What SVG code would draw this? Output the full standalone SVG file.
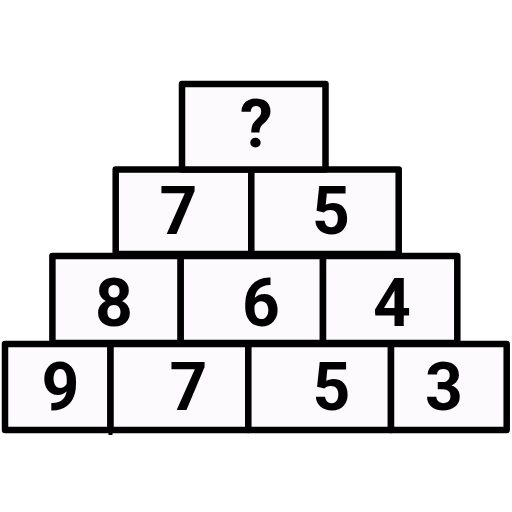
<svg xmlns="http://www.w3.org/2000/svg" width="512" height="512" viewBox="0 0 512 512">
<style>
.box{fill:#fdfafd;stroke:#000;stroke-width:6.5;stroke-linejoin:round}
.num{font-family:Roboto,"Liberation Sans",sans-serif;font-weight:bold;font-size:66px;text-anchor:middle;fill:#000}
</style>
<rect width="512" height="512" fill="#fff"/>
<g id="row4">
<g id="n9"><rect class="box" x="5" y="344" width="105.5" height="86"/><text class="num" x="60.5" y="410">9</text></g>
<g id="n7b"><rect class="box" x="110.5" y="344" width="137.8" height="86"/><text class="num" x="188.5" y="410">7</text></g>
<g id="n5b"><rect class="box" x="248.3" y="344" width="142.7" height="86"/><text class="num" x="331.5" y="410">5</text></g>
<g id="n3"><rect class="box" x="391" y="344" width="115.7" height="86"/><text class="num" x="444" y="410">3</text></g>
</g>
<g id="row3">
<g id="n8"><rect class="box" x="52.4" y="256" width="128.3" height="87"/><text class="num" x="114" y="325.5">8</text></g>
<g id="n6"><rect class="box" x="180.7" y="256" width="142.3" height="87"/><text class="num" x="261" y="325.5">6</text></g>
<g id="n4"><rect class="box" x="323" y="256" width="134.3" height="87"/><text class="num" x="392" y="325.5">4</text></g>
</g>
<g id="row2">
<g id="n7a"><rect class="box" x="115.7" y="169.5" width="135.6" height="84.5"/><text class="num" x="178.5" y="234">7</text></g>
<g id="n5a"><rect class="box" x="251.3" y="169.5" width="147.4" height="84.5"/><text class="num" x="331" y="234">5</text></g>
</g>
<g id="row1">
<g id="nq"><rect class="box" x="182" y="84" width="143.5" height="85.5"/><text class="num" x="256.5" y="147">?</text></g>
</g>
<g id="connectors"><line x1="110.5" y1="430" x2="110.5" y2="435" stroke="#000" stroke-width="4"/></g>
</svg>
